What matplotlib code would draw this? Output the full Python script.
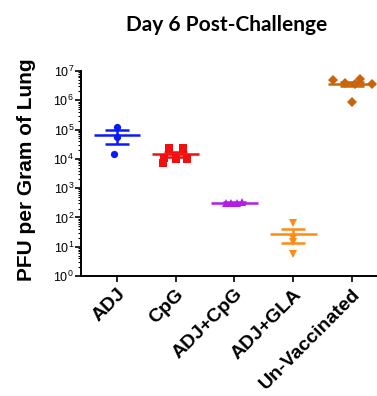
import numpy as np
import matplotlib
matplotlib.use("Agg")
import matplotlib.pyplot as plt
from matplotlib.ticker import LogLocator, LogFormatterMathtext, NullFormatter

plt.rcParams['font.family'] = ['Liberation Sans', 'DejaVu Sans']
plt.rcParams['mathtext.fontset'] = 'custom'
plt.rcParams['mathtext.rm'] = 'Liberation Sans'
plt.rcParams['mathtext.it'] = 'Liberation Sans:italic'
plt.rcParams['mathtext.bf'] = 'Liberation Sans:bold'

# ---- data ----
categories = ["ADJ", "CpG", "ADJ+CpG", "ADJ+GLA", "Un-Vaccinated"]
adj_vals = [1.2e5, 5.4e4, 1.5e4]
cpg_vals = [7.5e3, 2.4e4, 1.0e4, 2.3e4, 1.0e4, 1.1e4]
adj_cpg_vals = [300, 310, 320, 345]
adj_gla_vals = [67, 20, 15, 5.6]
unvac_vals = [4.8e6, 3.9e6, 3.6e6, 5.2e6, 3.6e6, 8.5e5]
title = "Day 6 Post-Challenge"
ylabel = "PFU per Gram of Lung"

# horizontal spread of points within each column (layout only)
adj_off = [0.0, 0.0, -0.05]
cpg_off = [-0.22, -0.12, 0.0, 0.12, 0.19, -0.2]
adj_cpg_off = [-0.15, -0.05, 0.05, 0.13]
adj_gla_off = [0.0, 0.0, 0.0, 0.0]
unvac_off = [-0.32, -0.12, 0.05, 0.14, 0.34, 0.01]

groups = [adj_vals, cpg_vals, adj_cpg_vals, adj_gla_vals, unvac_vals]
offsets = [adj_off, cpg_off, adj_cpg_off, adj_gla_off, unvac_off]
colors = ["#0a1cf5", "#f01010", "#b21ee8", "#ff8a14", "#c8650a"]
markers = ["o", "s", "^", "v", "D"]
msizes = [5.2, 5.6, 5.6, 6.0, 5.0]

fig = plt.figure(figsize=(3.77, 3.96), dpi=100)
ax = fig.add_axes([81/377, 1-276/396, 1-81/377, (276-71)/396])

for i, (vals, offs, c, m, ms) in enumerate(zip(groups, offsets, colors, markers, msizes)):
    v = np.array(vals, dtype=float)
    x = i + np.array(offs)
    ax.plot(x, v, linestyle='none', marker=m, color=c, markersize=ms,
            markeredgewidth=0, zorder=3)
    mean = v.mean()
    sem = v.std(ddof=1) / np.sqrt(len(v))
    ax.hlines(mean, i - 0.4, i + 0.4, color=c, linewidth=1.8, zorder=4)
    ax.hlines([mean - sem, mean + sem], i - 0.2, i + 0.2, color=c, linewidth=1.8, zorder=4)
    ax.vlines(i, mean - sem, mean + sem, color=c, linewidth=1.8, zorder=4)

ax.set_yscale('log')
ax.set_ylim(1, 1e7)
ax.set_xlim(-0.613, 4.43)

ax.yaxis.set_major_locator(LogLocator(base=10, numticks=10))
ax.yaxis.set_minor_locator(LogLocator(base=10, subs=np.arange(2, 10), numticks=10))
ax.yaxis.set_major_formatter(LogFormatterMathtext())
ax.yaxis.set_minor_formatter(NullFormatter())

ax.set_xticks(range(len(categories)))
ax.set_xticklabels(categories, rotation=45, ha='right', rotation_mode='anchor',
                   fontsize=14, fontweight='bold')

for s in ['top', 'right']:
    ax.spines[s].set_visible(False)
for s in ['left', 'bottom']:
    ax.spines[s].set_linewidth(1.4)
    ax.spines[s].set_color('black')

ax.tick_params(axis='y', which='major', length=4, width=1.2, labelsize=9, pad=1)
ax.tick_params(axis='y', which='minor', length=2.5, width=0.8)
ax.tick_params(axis='x', which='major', length=4, width=1.2, pad=3)

fig.text(0.602, 0.937, title, ha='center', va='center', fontsize=15,
         fontweight='bold', family=['Lato', 'DejaVu Sans'])
fig.text(0.069, 0.571, ylabel, ha='center', va='center', rotation=90,
         fontsize=15, fontweight='bold')

fig.savefig("out.png", dpi=100)
